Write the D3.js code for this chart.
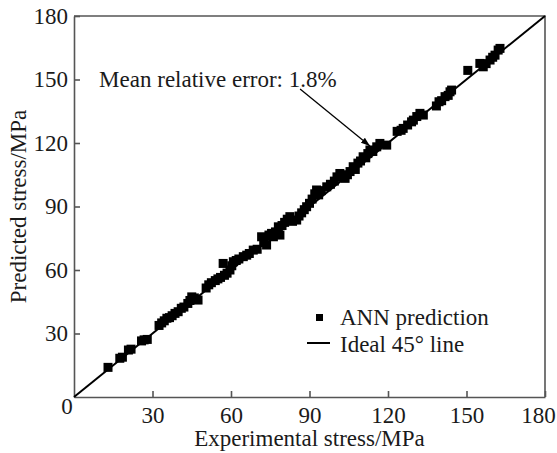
<!DOCTYPE html>
<html>
<head>
<meta charset="utf-8">
<script src="https://cdn.jsdelivr.net/npm/d3@7"></script>
<style>
  body { margin: 0; background: #fff; }
  svg text { font-family: "Liberation Serif", "Times New Roman", serif; fill: #1a1a1a; }
</style>
</head>
<body>
<div id="chart"></div>
<script>
const expStress = [
  13, 17.5, 18.5, 20.8, 21.8, 25.8, 26.8, 28,
  32.5, 33.5, 34.5, 35.5, 36.5, 37.5, 38.6, 39.8, 41, 42, 43.5, 44.3, 45, 46, 47.4,
  50.5, 51.5, 52.5, 54, 55, 56, 57, 57.5, 58.5, 59.6, 60.3, 60.9, 62, 63, 64.7, 66, 67,
  68.5, 70, 71.7, 72.5, 73.6, 74.5, 75.5, 76.2, 77, 78.1, 78.7, 79.5, 80.5, 81.5, 82.5,
  83.5, 85.1, 86, 87, 88, 88.9, 90, 91, 92, 92.7, 93.5, 94.5, 96.6, 98, 99.5, 100.5,
  101.6, 102.5, 103.6, 104.5, 105.5, 106.7, 107.5, 108.5, 109.5, 110.5, 111.5, 112.3,
  113.1, 114.2, 115.7, 116.9, 119.5,
  123.5, 125, 125.8, 127.5, 129, 129.7, 131, 132.2, 133.5,
  138.5, 139.5, 140.5, 141.8, 143, 143.7, 144.3,
  150.5, 155.1, 156.4, 157.5, 159, 160, 160.9, 162.1, 162.8
];
const predStress = [
  14, 18.3, 18.8, 22.2, 22.6, 26.5, 27, 27.2,
  33.8, 35, 36, 37.2, 37.5, 38.4, 39.5, 40.3, 41.9, 42.5, 44.2, 45.6, 47.3, 46.8, 45.8,
  51.5, 53, 54, 55, 55.8, 56.5, 63.1, 57.5, 58.5, 60, 62, 63.9, 64.5, 65.2, 66.3, 67, 67.8,
  69.4, 69.8, 75.7, 73, 71.8, 76.5, 77.3, 75.7, 78, 80.4, 76.5, 81, 82.5, 84, 85.2,
  83, 83.6, 85.5, 87, 88.5, 89.9, 91.5, 93.5, 96, 97.8, 95.5, 97.5, 99.3, 100.5, 102, 104,
  105.6, 104.5, 103.3, 105, 106.5, 108.8, 107.5, 110.5, 111.5, 113.5, 113, 115,
  116.7, 116, 118.2, 119.8, 119,
  125.5, 126, 126.9, 128.5, 130, 130.8, 132.5, 134, 133.2,
  137.5, 139.5, 140, 141.9, 142.5, 144.2, 145,
  154.3, 157.6, 156, 157.5, 159.2, 160.5, 161.5, 163.9, 164.7
];
const tickValues = [30, 60, 90, 120, 150, 180];
const axisDomain = [0, 180];
const legendLabels = ["ANN prediction", "Ideal 45° line"];
const annotationText = "Mean relative error: 1.8%";

const points = expStress.map((d, i) => ({ exp: d, pred: predStress[i] }));

//---------------------------------------------------------------------------------------
// canevas

const W = 557, H = 453;
const margin = { left: 74, right: 12, top: 16, bottom: 56 };
const width = W - margin.left - margin.right;
const height = H - margin.top - margin.bottom;
const fontSize = 23;

const svg = d3.select("#chart").append("svg")
  .attr("width", W).attr("height", H);

const g = svg.append("g")
  .attr("transform", `translate(${margin.left}, ${margin.top})`);

// échelles
const x = d3.scaleLinear().domain(axisDomain).range([0, width]);
const y = d3.scaleLinear().domain(axisDomain).range([height, 0]);

//---------------------------------------------------------------------------------------
// cadre (haut + droite)
g.append("path")
  .attr("d", `M0,0H${width}V${height}`)
  .attr("fill", "none")
  .attr("stroke", "#555")
  .attr("stroke-width", 1.6);

// axes avec graduations vers l'intérieur
const xAxis = g.append("g")
  .attr("transform", `translate(0, ${height})`)
  .call(d3.axisBottom(x).tickValues(tickValues).tickSize(-6).tickSizeOuter(0).tickPadding(10));

const yAxis = g.append("g")
  .call(d3.axisLeft(y).tickValues(tickValues).tickSize(-6).tickSizeOuter(0).tickPadding(6));

[xAxis, yAxis].forEach(a => {
  a.select(".domain").attr("stroke", "#555").attr("stroke-width", 1.6);
  a.selectAll(".tick line").attr("stroke", "#555").attr("stroke-width", 1.6);
  a.selectAll(".tick text")
    .style("font-family", '"Liberation Serif", serif')
    .style("font-size", `${fontSize}px`)
    .attr("fill", "#1a1a1a");
});
xAxis.selectAll(".tick text").attr("x", (d) => d === 180 ? -7 : 0);

// le zéro commun à l'origine
g.append("text")
  .attr("x", -7)
  .attr("y", height + 17)
  .attr("text-anchor", "middle")
  .style("font-size", `${fontSize}px`)
  .text("0");

//---------------------------------------------------------------------------------------
// ligne idéale à 45°
g.append("line")
  .attr("x1", x(axisDomain[0])).attr("y1", y(axisDomain[0]))
  .attr("x2", x(axisDomain[1])).attr("y2", y(axisDomain[1]))
  .attr("stroke", "#000")
  .attr("stroke-width", 2);

// points de prédiction ANN
const sq = 9;
g.append("g")
  .selectAll("rect")
  .data(points)
  .join("rect")
  .attr("x", (d) => x(d.exp) - sq / 2)
  .attr("y", (d) => y(d.pred) - sq / 2)
  .attr("width", sq)
  .attr("height", sq)
  .attr("fill", "#000");

//---------------------------------------------------------------------------------------
// annotation
svg.append("defs").append("marker")
  .attr("id", "arrow")
  .attr("viewBox", "0 0 10 10")
  .attr("refX", 10).attr("refY", 5)
  .attr("markerWidth", 7).attr("markerHeight", 7)
  .attr("orient", "auto")
  .append("path")
  .attr("d", "M0,1.5L10,5L0,8.5Z")
  .attr("fill", "#000");

g.append("text")
  .attr("x", x(9.6))
  .attr("y", y(146.4))
  .style("font-size", `${fontSize}px`)
  .text(annotationText);

g.append("line")
  .attr("x1", x(86.4)).attr("y1", y(145.5))
  .attr("x2", x(113.1)).attr("y2", y(118.6))
  .attr("stroke", "#000")
  .attr("stroke-width", 1.3)
  .attr("marker-end", "url(#arrow)");

//---------------------------------------------------------------------------------------
// légende
const legend = g.append("g").attr("transform", `translate(${245}, ${301})`);

legend.append("rect")
  .attr("x", -3).attr("y", -3)
  .attr("width", 7).attr("height", 7)
  .attr("fill", "#000");
legend.append("line")
  .attr("x1", -12).attr("x2", 11)
  .attr("y1", 26).attr("y2", 26)
  .attr("stroke", "#000").attr("stroke-width", 2);

legend.selectAll(".lbl")
  .data(legendLabels)
  .join("text")
  .attr("class", "lbl")
  .attr("x", 21)
  .attr("y", (d, i) => 8 + i * 27)
  .style("font-size", `${fontSize}px`)
  .text((d) => d);

//---------------------------------------------------------------------------------------
// titres des axes
svg.append("text")
  .attr("x", margin.left + width / 2)
  .attr("y", 446)
  .attr("text-anchor", "middle")
  .style("font-size", `${fontSize}px`)
  .text("Experimental stress/MPa");

svg.append("text")
  .attr("transform", `translate(26, ${margin.top + height / 2}) rotate(-90)`)
  .attr("text-anchor", "middle")
  .style("font-size", `${fontSize}px`)
  .text("Predicted stress/MPa");
</script>
</body>
</html>
